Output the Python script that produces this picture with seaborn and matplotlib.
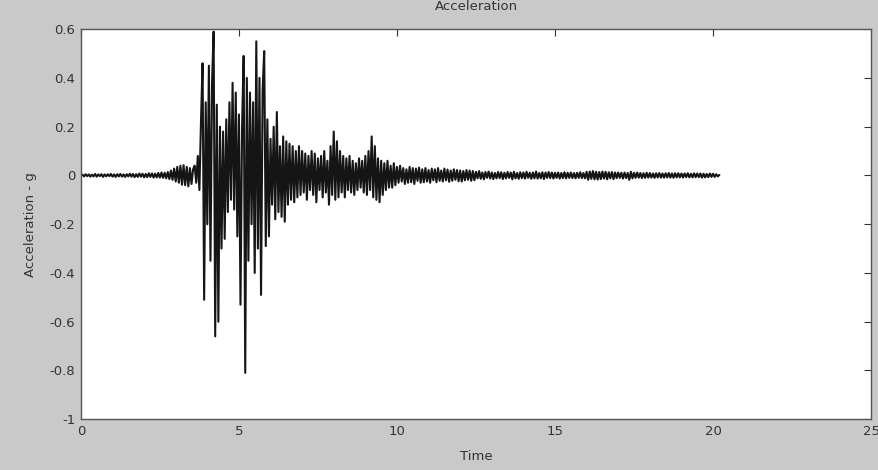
import matplotlib
matplotlib.use('Agg')
import matplotlib.pyplot as plt
import numpy as np
import pandas as pd
import seaborn as sns

# registro de aceleracao (g), amostrado a cada dt segundos
dt = 0.05

# 0.00 - 2.75 s : ruido antes do evento
acc_pre = [0.0, 0.003, -0.004, 0.005, -0.003, 0.004, -0.005, 0.003, -0.004, 0.006,
           -0.005, 0.004, -0.003, 0.005, -0.006, 0.004, -0.004, 0.005, -0.003, 0.006,
           -0.005, 0.004, -0.006, 0.005, -0.004, 0.006, -0.005, 0.004, -0.006, 0.005,
           -0.004, 0.007, -0.005, 0.006, -0.007, 0.005, -0.006, 0.008, -0.005, 0.007,
           -0.008, 0.006, -0.007, 0.009, -0.006, 0.008, -0.009, 0.007, -0.008, 0.010,
           -0.009, 0.012, -0.010, 0.011, -0.012, 0.014]

# 2.80 - 3.75 s : chegada da onda P
acc_p_wave = [-0.015, 0.020, -0.018, 0.028, -0.025, 0.035, -0.030, 0.040,
              -0.038, 0.042, -0.040, 0.035, -0.045, 0.030, -0.035, 0.025,
              0.040, -0.030, 0.080, -0.060]

# 3.80 - 6.95 s : fase forte
acc_strong = [0.22, 0.46, -0.51, 0.30, -0.20, 0.45, -0.35, 0.38, 0.59, -0.66,
              0.29, -0.60, 0.20, -0.30, 0.18, -0.26, 0.23, -0.15, 0.30, -0.10,
              0.38, -0.14, 0.34, -0.25, 0.25, -0.53, 0.20, 0.49, -0.81, 0.40,
              -0.35, 0.34, -0.20, 0.30, -0.40, 0.55, -0.30, 0.40, -0.49, 0.35,
              0.51, -0.29, 0.23, -0.25, 0.15, -0.12, 0.20, -0.18, 0.26, -0.15,
              0.12, -0.17, 0.16, -0.19, 0.14, -0.12, 0.13, -0.10, 0.12, -0.11,
              0.10, -0.09, 0.12, -0.08]

# 7.00 - 9.95 s : coda
acc_coda = [0.10, -0.07, 0.09, -0.10, 0.08, -0.06, 0.10, -0.08, 0.09, -0.11,
            0.07, -0.06, 0.08, -0.09, 0.10, -0.07, 0.06, -0.12, 0.12, -0.08,
            0.18, -0.10, 0.14, -0.09, 0.10, -0.07, 0.08, -0.09, 0.07, -0.06,
            0.08, -0.07, 0.06, -0.08, 0.05, -0.06, 0.07, -0.05, 0.06, -0.07,
            0.08, -0.08, 0.10, -0.06, 0.16, -0.09, 0.12, -0.10, 0.07, -0.11,
            0.06, -0.08, 0.05, -0.06, 0.06, -0.05, 0.04, -0.05, 0.05, -0.04]

# 10.00 - 20.20 s : cauda
acc_tail = [0.035, -0.030, 0.040, -0.025, 0.030, -0.035, 0.025, -0.030, 0.035, -0.028,
            0.030, -0.035, 0.028, -0.022, 0.032, -0.030, 0.025, -0.028, 0.030, -0.025,
            0.022, -0.030, 0.028, -0.020, 0.025, -0.028, 0.030, -0.022, 0.020, -0.025,
            0.028, -0.020, 0.024, -0.026, 0.020, -0.022, 0.025, -0.018, 0.022, -0.024,
            0.020, -0.025, 0.018, -0.020, 0.022, -0.018, 0.020, -0.022, 0.018, -0.020,
            0.015, -0.012, 0.018, -0.014, 0.012, -0.016, 0.014, -0.010, 0.016, -0.013,
            0.012, -0.015, 0.010, -0.012, 0.014, -0.011, 0.013, -0.015, 0.011, -0.012,
            0.014, -0.010, 0.012, -0.016, 0.015, -0.012, 0.010, -0.014, 0.013, -0.011,
            0.012, -0.013, 0.015, -0.010, 0.011, -0.014, 0.012, -0.012, 0.016, -0.013,
            0.010, -0.012, 0.013, -0.015, 0.012, -0.010, 0.014, -0.011, 0.012, -0.013,
            0.011, -0.010, 0.012, -0.013, 0.010, -0.011, 0.013, -0.012, 0.011, -0.010,
            0.012, -0.011, 0.010, -0.012, 0.011, -0.010, 0.013, -0.011, 0.010, -0.012,
            0.015, -0.018, 0.016, -0.014, 0.018, -0.016, 0.015, -0.017, 0.014, -0.015,
            0.016, -0.013, 0.015, -0.016, 0.013, -0.012, 0.014, -0.015, 0.012, -0.011,
            0.012, -0.010, 0.011, -0.013, 0.012, -0.011, 0.010, -0.018, 0.015, -0.012,
            0.011, -0.010, 0.012, -0.009, 0.010, -0.011, 0.009, -0.010, 0.011, -0.009,
            0.010, -0.009, 0.008, -0.010, 0.009, -0.008, 0.010, -0.009, 0.008, -0.009,
            0.009, -0.008, 0.010, -0.009, 0.008, -0.010, 0.009, -0.008, 0.009, -0.008,
            0.008, -0.009, 0.008, -0.007, 0.009, -0.008, 0.007, -0.008, 0.009, -0.007,
            0.008, -0.007, 0.008, -0.009, 0.007, -0.008, 0.006, -0.007, 0.008, -0.006,
            0.007, -0.006, 0.005, -0.004, 0.002]

x_ticks = [0, 5, 10, 15, 20, 25]
y_ticks = [-1, -0.8, -0.6, -0.4, -0.2, 0, 0.2, 0.4, 0.6]
y_labels = ['-1', '-0.8', '-0.6', '-0.4', '-0.2', '0', '0.2', '0.4', '0.6']

# montar a tabela
acc = acc_pre + acc_p_wave + acc_strong + acc_coda + acc_tail
df = pd.DataFrame({'Time': np.arange(len(acc)) * dt, 'Acc': acc})

sns.set_style('white')
plt.rcParams['font.family'] = ['DejaVu Sans']

fig = plt.figure(figsize=(8.79, 4.70), dpi=100, facecolor='#c9c9c9')
ax = fig.add_axes([0.092, 0.108, 0.899, 0.83])
ax.set_facecolor('white')

sns.lineplot(data=df, x='Time', y='Acc', ax=ax, color='#151515',
             linewidth=1.5, estimator=None)

ax.set_xlim(0, 25)
ax.set_ylim(-1, 0.6)
ax.set_xticks(x_ticks)
ax.set_yticks(y_ticks)
ax.set_yticklabels(y_labels)
ax.tick_params(direction='in', length=5, width=0.8, colors='#333333',
               labelsize=9.5, top=True, right=True, pad=4)
for s in ax.spines.values():
    s.set_color('#555555')
    s.set_linewidth(1.0)

ax.set_title('Acceleration', fontsize=9.5, color='#333333', pad=14)
ax.set_xlabel('Time', fontsize=9.5, color='#333333', labelpad=9)
ax.set_ylabel('Acceleration - g', fontsize=9.5, color='#333333', labelpad=9)

fig.savefig('out.png', dpi=100, facecolor=fig.get_facecolor())
